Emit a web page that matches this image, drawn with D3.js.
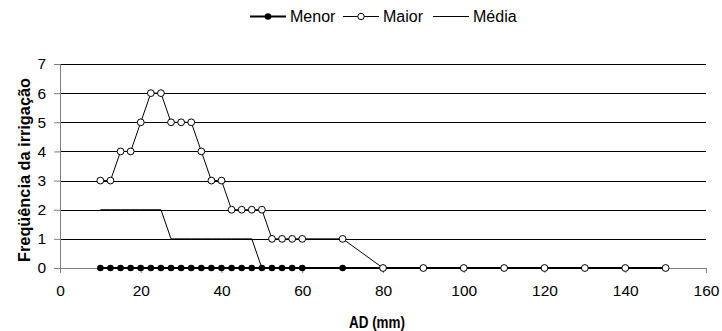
<!DOCTYPE html>
<html><head><meta charset="utf-8">
<script src="https://cdn.jsdelivr.net/npm/d3@7"></script>
<style>body{margin:0;background:#fff}svg{display:block;font-family:"Liberation Sans",Arial,sans-serif}</style>
</head><body>
<svg id="c" width="722" height="331"></svg>
<script>
const menorX = [10,12.5,15,17.5,20,22.5,25,27.5,30,32.5,35,37.5,40,42.5,45,47.5,50,52.5,55,57.5,60,70,80,90,100,110,120,130,140,150];
const menorY = [0,0,0,0,0,0,0,0,0,0,0,0,0,0,0,0,0,0,0,0,0,0,0,0,0,0,0,0,0,0];
const maiorX = [10,12.5,15,17.5,20,22.5,25,27.5,30,32.5,35,37.5,40,42.5,45,47.5,50,52.5,55,57.5,60,70,80,90,100,110,120,130,140,150];
const maiorY = [3,3,4,4,5,6,6,5,5,5,4,3,3,2,2,2,2,1,1,1,1,1,0,0,0,0,0,0,0,0];
const mediaX = [10,12.5,15,17.5,20,22.5,25,27.5,30,32.5,35,37.5,40,42.5,45,47.5,50,52.5,55,57.5,60];
const mediaY = [2,2,2,2,2,2,2,1,1,1,1,1,1,1,1,1,0,0,0,0,0];
const xTicks = [0,20,40,60,80,100,120,140,160];
const yTicks = [0,1,2,3,4,5,6,7];
const seriesNames = ["Menor","Maior","Média"];

const svg = d3.select("#c");
const x = d3.scaleLinear().domain([0,160]).range([60,706]);
const y = d3.scaleLinear().domain([0,7]).range([268,64]);

// gridlines
svg.append("g").selectAll("line").data(yTicks.filter(d=>d>0)).join("line")
  .attr("x1",x(0)).attr("x2",x(160))
  .attr("y1",d=>Math.round(y(d))+0.5).attr("y2",d=>Math.round(y(d))+0.5)
  .attr("stroke","#000").attr("stroke-width",1);

// axes
const yAxis = d3.axisLeft(y).tickValues(yTicks).tickSize(6).tickPadding(8).tickFormat(d3.format("d"));
const gy = svg.append("g").attr("transform","translate("+x(0)+",0)").call(yAxis);
gy.selectAll("text").attr("font-size",15.5).attr("fill","#000").attr("font-family","Liberation Sans, Arial");
gy.select(".domain").attr("stroke","#808080");
gy.selectAll(".tick line").attr("stroke","#808080");

const xAxis = d3.axisBottom(x).tickValues(xTicks).tickSize(5).tickPadding(12).tickSizeOuter(5);
const gx = svg.append("g").attr("transform","translate(0,"+y(0)+")").call(xAxis);
gx.selectAll("text").attr("font-size",15.5).attr("fill","#000").attr("font-family","Liberation Sans, Arial");
gx.select(".domain").attr("stroke","#808080");
gx.selectAll(".tick line").attr("stroke","#808080");

const line = d3.line().x(d=>x(d[0])).y(d=>y(d[1]));

// Média
svg.append("path").datum(d3.zip(mediaX,mediaY)).attr("d",line)
  .attr("fill","none").attr("stroke","#000").attr("stroke-width",1);

// Menor
const menor = d3.zip(menorX,menorY);
svg.append("path").datum(menor).attr("d",line)
  .attr("fill","none").attr("stroke","#000").attr("stroke-width",2.2);
svg.append("g").selectAll("circle").data(menor).join("circle")
  .attr("cx",d=>x(d[0])).attr("cy",d=>y(d[1])).attr("r",3.3).attr("fill","#000");

// Maior
const maior = d3.zip(maiorX,maiorY);
svg.append("path").datum(maior).attr("d",line)
  .attr("fill","none").attr("stroke","#000").attr("stroke-width",1);
svg.append("g").selectAll("circle").data(maior).join("circle")
  .attr("cx",d=>x(d[0])).attr("cy",d=>y(d[1])).attr("r",3.4)
  .attr("fill","#fff").attr("stroke","#000").attr("stroke-width",1);

// legend
const leg = svg.append("g").attr("font-size",16);
const legX = [250,343,433];
const ly = 16;
seriesNames.forEach((n,i)=>{
  const g = leg.append("g").attr("transform","translate("+legX[i]+","+ly+")");
  g.append("line").attr("x1",0).attr("x2",36).attr("y1",0.5).attr("y2",0.5)
    .attr("stroke","#000").attr("stroke-width", i===0?2:1);
  if(i===0) g.append("circle").attr("cx",18).attr("cy",0.5).attr("r",3.3).attr("fill","#000");
  if(i===1) g.append("circle").attr("cx",18).attr("cy",0.5).attr("r",3.2).attr("fill","#fff").attr("stroke","#000");
  g.append("text").attr("x",40).attr("y",6).text(n);
});

// axis titles
svg.append("text").attr("x",377).attr("y",328).attr("text-anchor","middle")
  .attr("font-weight","bold").attr("font-size",16).attr("textLength",56).attr("lengthAdjust","spacingAndGlyphs").text("AD (mm)");
svg.append("text").attr("transform","translate(30,170) rotate(-90)").attr("text-anchor","middle")
  .attr("font-weight","bold").attr("font-size",16).attr("textLength",184).attr("lengthAdjust","spacingAndGlyphs").text("Freqüência da irrigação");
</script>
</body></html>
